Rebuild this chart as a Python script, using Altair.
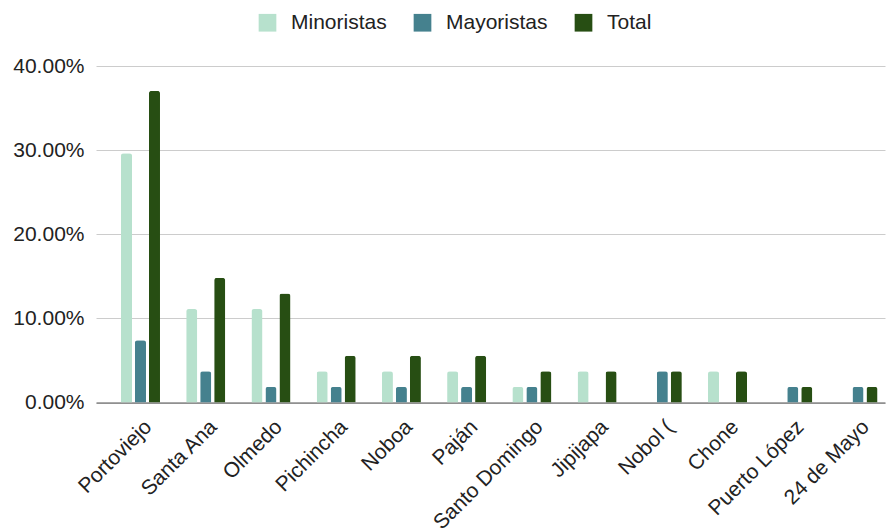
import altair as alt
import pandas as pd

categories = ["Portoviejo", "Santa Ana", "Olmedo", "Pichincha", "Noboa", "Paján",
              "Santo Domingo", "Jipijapa", "Nobol (", "Chone", "Puerto López", "24 de Mayo"]
minoristas = [29.63, 11.11, 11.11, 3.70, 3.70, 3.70, 1.85, 3.70, 0.0, 3.70, 0.0, 0.0]
mayoristas = [7.41, 3.70, 1.85, 1.85, 1.85, 1.85, 1.85, 0.0, 3.70, 0.0, 1.85, 1.85]
total = [37.04, 14.81, 12.96, 5.56, 5.56, 5.56, 3.70, 3.70, 3.70, 3.70, 1.85, 1.85]
series = ["Minoristas", "Mayoristas", "Total"]
colors = ["#b7e1cd", "#45818e", "#274e13"]
y_ticks = [0, 0.1, 0.2, 0.3, 0.4]

rows = []
for i, c in enumerate(categories):
    for s, vals in zip(series, [minoristas, mayoristas, total]):
        rows.append({"category": c, "series": s, "value": vals[i] / 100})
df = pd.DataFrame(rows)

FONT = "Liberation Sans"

chart = alt.Chart(df).transform_filter(
    "datum.value > 0"
).mark_bar(
    cornerRadiusTopLeft=2.5, cornerRadiusTopRight=2.5
).encode(
    x=alt.X("category:N", sort=categories, title=None,
            scale=alt.Scale(domain=categories, paddingInner=0.35, paddingOuter=0.223, align=0.8),
            axis=alt.Axis(labelAngle=-45, labelFontSize=21, labelColor="#222222",
                          labelFont=FONT, ticks=False, domainColor="#555555",
                          domainWidth=1.2, labelPadding=21, labelOffset=8,
                          labelBaseline="middle", labelAlign="right", grid=False,
                          labelOverlap=False)),
    xOffset=alt.XOffset("series:N", sort=series,
                        scale=alt.Scale(domain=series, paddingInner=0.21, paddingOuter=0.12)),
    y=alt.Y("value:Q", title=None,
            scale=alt.Scale(domain=[0, 0.4], nice=False),
            axis=alt.Axis(format=".2%", values=y_ticks, labelFontSize=21,
                          labelColor="#222222", labelFont=FONT, ticks=False,
                          domain=False, gridColor="#cccccc", gridWidth=1,
                          labelPadding=12)),
    color=alt.Color("series:N", sort=series,
                    scale=alt.Scale(domain=series, range=colors),
                    legend=alt.Legend(title=None, orient="none", direction="horizontal",
                                      legendX=161, legendY=-54, symbolType="square",
                                      symbolSize=313, symbolStrokeWidth=0,
                                      labelFontSize=21, labelFont=FONT,
                                      labelColor="#222222", labelOffset=13,
                                      columnPadding=25, padding=0)),
).properties(
    width=789, height=336.5,
    autosize=alt.AutoSizeParams(type="none"),
    padding={"left": 96, "top": 66, "right": 5, "bottom": 126},
).configure(background="white").configure_view(stroke=None)

chart.save("out.html", embed_options={"renderer": "svg", "actions": False})
